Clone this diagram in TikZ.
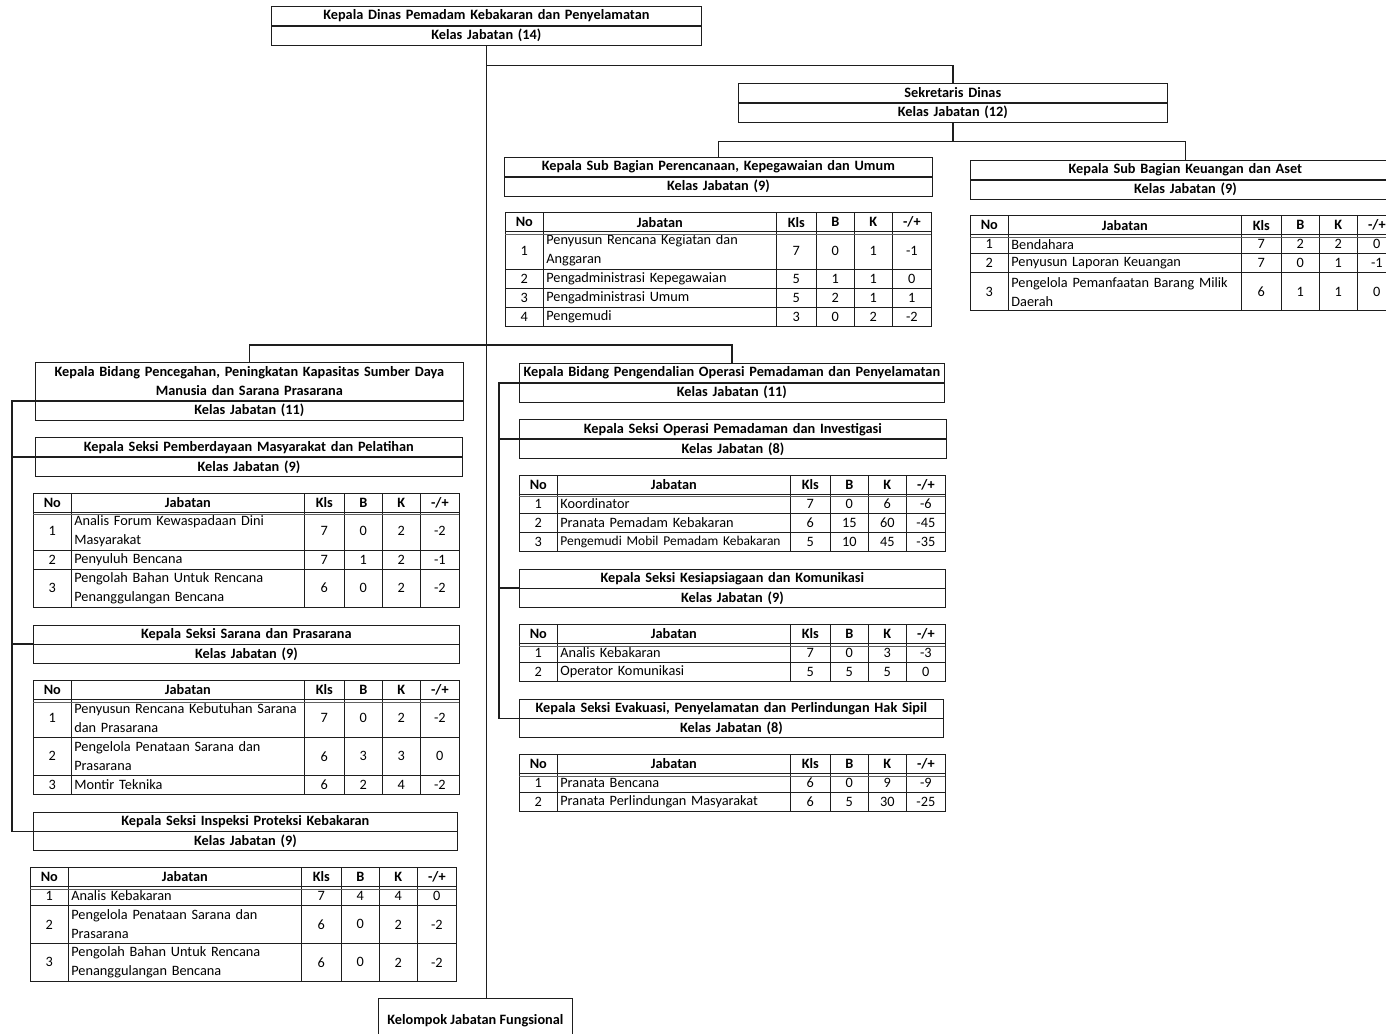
\documentclass[tikz,border=0pt]{standalone}
\usepackage{fontspec}
\setmainfont{Carlito}
\usepackage{tikz}
\usetikzlibrary{positioning,calc,matrix}
\definecolor{jbInk}{HTML}{1E1E1E}
\newcommand{\jbText}{\fontsize{14.3}{19}\selectfont}
\newcommand{\jbTight}{\fontsize{13.5}{19}\selectfont}
\tikzset{
    jbBox/.style={
        rectangle,
        draw=jbInk,
        line width=0.7pt,
        text width=#1,
        minimum height=19pt,
        inner sep=0pt,
        align=center,
        font=\jbText\bfseries
    },
    jbBox/.default=428pt,
    jbTable/.style={
        matrix of nodes,
        anchor=north west,
        inner sep=0pt,
        outer sep=0pt,
        row sep=-0.7pt,
        column sep=-0.7pt,
        nodes={draw=jbInk, line width=0.7pt, anchor=center, minimum height=19pt,
               inner xsep=3pt, inner ysep=0pt, font=\jbText, align=center},
        column 1/.style={nodes={text width=32pt}},
        column 2/.style={nodes={text width=227pt, align=left}},
        column 3/.style={nodes={text width=34pt}},
        column 4/.style={nodes={text width=32pt}},
        column 5/.style={nodes={text width=32pt}},
        column 6/.style={nodes={text width=33pt}},
        row 1/.style={nodes={font=\jbText\bfseries, align=center}}
    },
    jbTwo/.style={row #1/.style={nodes={minimum height=38pt}}},
    jbLink/.style={draw=jbInk, line width=1.6pt},
    jbRule/.style={draw=jbInk!70, line width=0.5pt}
}

\begin{document}
\begin{tikzpicture}[x=1pt, y=-1pt]
\path[use as bounding box, fill=white] (0,0) rectangle (1386,1033);

% pimpinan
\node[jbBox=430pt, anchor=north west] (kadisT) at (271,6) {Kepala Dinas Pemadam Kebakaran dan Penyelamatan};
\node[jbBox=430pt, below=0pt of kadisT] (kadisK) {Kelas Jabatan (14)};

\node[jbBox=429pt, anchor=north west] (sekT) at (738,83) {Sekretaris Dinas};
\node[jbBox=429pt, below=0pt of sekT] (sekK) {Kelas Jabatan (12)};

% sub bagian
\node[jbBox, anchor=north west] (perT) at (504,157) {Kepala Sub Bagian Perencanaan, Kepegawaian dan Umum};
\node[jbBox, below=0pt of perT] (perK) {Kelas Jabatan (9)};
\matrix (tabPU) [below=16pt of perK.south west, jbTable, jbTwo=2, xshift=1pt] {
No & Jabatan & Kls & B & K & -/+ \\
1 & Penyusun Rencana Kegiatan dan\newline Anggaran & 7 & 0 & 1 & -1 \\
2 & Pengadministrasi Kepegawaian & 5 & 1 & 1 & 0 \\
3 & Pengadministrasi Umum & 5 & 2 & 1 & 1 \\
4 & Pengemudi & 3 & 0 & 2 & -2 \\
};

\node[jbBox=430pt, anchor=north west] (keuT) at (970,160) {Kepala Sub Bagian Keuangan dan Aset};
\node[jbBox=430pt, below=0pt of keuT] (keuK) {Kelas Jabatan (9)};
\matrix (tabKA) [below=16pt of keuK.south west, jbTable, jbTwo=4] {
No & Jabatan & Kls & B & K & -/+ \\
1 & Bendahara & 7 & 2 & 2 & 0 \\
2 & Penyusun Laporan Keuangan & 7 & 0 & 1 & -1 \\
3 & Pengelola Pemanfaatan Barang Milik\newline Daerah & 6 & 1 & 1 & 0 \\
};

% bidang pencegahan
\node[jbBox, minimum height=38pt, anchor=north west] (bidAT) at (35,362) {Kepala Bidang Pencegahan, Peningkatan Kapasitas Sumber Daya\\Manusia dan Sarana Prasarana};
\node[jbBox, below=0pt of bidAT] (bidAK) {Kelas Jabatan (11)};

\node[jbBox=427pt, below=17pt of bidAK.south west, anchor=north west] (sekPMT) {Kepala Seksi Pemberdayaan Masyarakat dan Pelatihan};
\node[jbBox=427pt, below=0pt of sekPMT] (sekPMK) {Kelas Jabatan (9)};
\matrix (tabPM) [below=16pt of sekPMK.south west, jbTable, jbTwo=2, jbTwo=4, xshift=-2pt] {
No & Jabatan & Kls & B & K & -/+ \\
1 & Analis Forum Kewaspadaan Dini\newline Masyarakat & 7 & 0 & 2 & -2 \\
2 & Penyuluh Bencana & 7 & 1 & 2 & -1 \\
3 & Pengolah Bahan Untuk Rencana\newline Penanggulangan Bencana & 6 & 0 & 2 & -2 \\
};

\node[jbBox=426pt, below=17pt of tabPM.south west, anchor=north west] (sekSPT) {Kepala Seksi Sarana dan Prasarana};
\node[jbBox=426pt, below=0pt of sekSPT] (sekSPK) {Kelas Jabatan (9)};
\matrix (tabSP) [below=16pt of sekSPK.south west, jbTable, jbTwo=2, jbTwo=3] {
No & Jabatan & Kls & B & K & -/+ \\
1 & Penyusun Rencana Kebutuhan Sarana\newline dan Prasarana & 7 & 0 & 2 & -2 \\
2 & Pengelola Penataan Sarana dan\newline Prasarana & 6 & 3 & 3 & 0 \\
3 & Montir Teknika & 6 & 2 & 4 & -2 \\
};

\node[jbBox=424pt, below=17pt of tabSP.south west, anchor=north west] (sekIPT) {Kepala Seksi Inspeksi Proteksi Kebakaran};
\node[jbBox=424pt, below=0pt of sekIPT] (sekIPK) {Kelas Jabatan (9)};
\matrix (tabIP) [below=16pt of sekIPK.south west, jbTable, jbTwo=3, jbTwo=4, xshift=-3pt] {
No & Jabatan & Kls & B & K & -/+ \\
1 & Analis Kebakaran & 7 & 4 & 4 & 0 \\
2 & Pengelola Penataan Sarana dan\newline Prasarana & 6 & 0 & 2 & -2 \\
3 & Pengolah Bahan Untuk Rencana\newline Penanggulangan Bencana & 6 & 0 & 2 & -2 \\
};

% bidang pengendalian
\node[jbBox=425pt, anchor=north west] (bidBT) at (519,363) {Kepala Bidang Pengendalian Operasi Pemadaman dan Penyelamatan};
\node[jbBox=425pt, below=0pt of bidBT] (bidBK) {Kelas Jabatan (11)};

\node[jbBox=427pt, below=17pt of bidBK.south west, anchor=north west] (sekOPT) {Kepala Seksi Operasi Pemadaman dan Investigasi};
\node[jbBox=427pt, below=0pt of sekOPT] (sekOPK) {Kelas Jabatan (8)};
\matrix (tabOP) [below=16pt of sekOPK.south west, jbTable] {
No & Jabatan & Kls & B & K & -/+ \\
1 & Koordinator & 7 & 0 & 6 & -6 \\
2 & Pranata Pemadam Kebakaran & 6 & 15 & 60 & -45 \\
3 & {\jbTight Pengemudi Mobil Pemadam Kebakaran} & 5 & 10 & 45 & -35 \\
};

\node[jbBox=426pt, below=17pt of tabOP.south west, anchor=north west] (sekKKT) {Kepala Seksi Kesiapsiagaan dan Komunikasi};
\node[jbBox=426pt, below=0pt of sekKKT] (sekKKK) {Kelas Jabatan (9)};
\matrix (tabKK) [below=16pt of sekKKK.south west, jbTable] {
No & Jabatan & Kls & B & K & -/+ \\
1 & Analis Kebakaran & 7 & 0 & 3 & -3 \\
2 & Operator Komunikasi & 5 & 5 & 5 & 0 \\
};

\node[jbBox=424pt, below=17pt of tabKK.south west, anchor=north west] (sekEVT) {Kepala Seksi Evakuasi, Penyelamatan dan Perlindungan Hak Sipil};
\node[jbBox=424pt, below=0pt of sekEVT] (sekEVK) {Kelas Jabatan (8)};
\matrix (tabEV) [below=16pt of sekEVK.south west, jbTable] {
No & Jabatan & Kls & B & K & -/+ \\
1 & Pranata Bencana & 6 & 0 & 9 & -9 \\
2 & Pranata Perlindungan Masyarakat & 6 & 5 & 30 & -25 \\
};

% double rule under the table heads
\foreach \t in {tabPU, tabKA, tabPM, tabSP, tabIP, tabOP, tabKK, tabEV}
    \draw[jbRule] ($(\t-1-1.south west)+(0,2.5)$) -- ($(\t-1-6.south east)+(0,2.5)$);

% fungsional
\node[draw=jbInk, line width=0.7pt, anchor=north west, minimum width=194pt, minimum height=44pt,
      inner sep=0pt, font=\jbText\bfseries] (kelompok) at (378,998) {Kelompok Jabatan Fungsional};

% garis komando
\coordinate (jSek) at ($(kadisK.south)+(0,20)$);
\coordinate (jSub) at ($(sekK.south)+(0,19)$);
\coordinate (spineA) at (12,0);
\coordinate (spineB) at (499,0);

\draw[jbLink] (kadisK.south) -- (kadisK.south |- kelompok.north);
\draw[jbLink] (jSek) -| (sekT.north);
\draw[jbLink] (sekK.south) -- (jSub);
\draw[jbLink] (perT.north) |- (jSub) -| (keuT.north);
\draw[jbLink] (bidAT.north) -- ++(0,-17) -| (bidBT.north);

\draw[jbLink] (bidAK.north west) -- (spineA |- bidAK.north west) -- (spineA |- sekIPK.north west) -- (sekIPK.north west);
\foreach \s in {sekPMK, sekSPK}
    \draw[jbLink] (\s.north west) -- (spineA |- \s.north west);

\draw[jbLink] (bidBK.north west) -- (spineB |- bidBK.north west) -- (spineB |- sekEVK.north west) -- (sekEVK.north west);
\foreach \s in {sekOPK, sekKKK}
    \draw[jbLink] (\s.north west) -- (spineB |- \s.north west);
\end{tikzpicture}
\end{document}
